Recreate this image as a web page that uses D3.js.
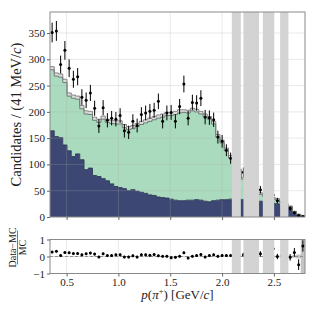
<!DOCTYPE html>
<html>
<head>
<meta charset="utf-8">
<script src="https://cdn.jsdelivr.net/npm/d3@7"></script>
<style>
  body { margin: 0; background: #fff; }
  text { font-family: "Liberation Serif", "DejaVu Serif", serif; fill: #222; }
</style>
</head>
<body>
<svg id="chart" width="317" height="317"></svg>
<script>
// binning: 60 bins of 41 MeV/c
const binLow = 0.34, binWidth = 0.041, nBins = 60;
const binEdges = d3.range(nBins + 1).map(i => binLow + i * binWidth);

// stacked MC components (per bin)
const navyComp = [164,153,151,137,126,115,120,109,90,93,79,77,73,69,63,58,56,54,50,52,
  49,47,45,42,41,38,37,36,34,32,31,31,32,32,33,32,30,29,31,32,
  33,33,34,34,34,33,32,31,31,30,29,28,26,25,22,20,19,9,4,2];
const greenComp = [116,115,115,119,104,111,104,97,106,102,105,103,113,111,115,119,121,116,116,116,
  123,129,134,140,144,150,153,157,159,163,167,168,166,170,167,164,161,157,146,120,
  108,93,78,66,54,39,31,24,17,13,10,8,8,7,6,4,1,1,0.5,0];
const otherComp = [6,6,6,6,6,6,6,6,6,6,6,6,6,6,6,6,6,6,6,6,
  6,6,6,6,6,6,6,6,6,6,6,5,5,5,5,5,5,5,5,5,
  5,5,5,3,3,3,3,3,3,3,3,3,3,3,3,3,1,1,1,1];

// data counts
const dataCounts = [351,354,290,317,283,262,267,228,222,236,207,173,208,184,188,186,193,164,161,182,
  174,195,198,201,203,220,182,198,199,182,210,253,188,218,217,226,190,189,185,152,
  144,127,112,100,90,85,70,62,55,52,46,44,42,31,28,22,16,8,3,1];

// (Data-MC)/MC
const ratioVals = [0.26,0.31,0.06,0.24,0.22,0.18,0.18,0.10,0.16,0.20,0.14,-0.03,0.16,0.06,0.06,0.10,0.10,-0.03,-0.03,0.04,
  -0.03,0.10,0.10,0.08,0.12,0.04,0.02,0.02,-0.08,-0.05,0.02,0.22,-0.09,0.02,0.06,0.12,-0.03,0.06,0.10,0.02,
  0.06,0.06,0.06,0.05,0.05,0.10,0.05,0.05,0.05,0.16,0.05,0.05,0.45,0.00,0.05,0.05,-0.05,0.24,-0.48,0.62];
// relative MC uncertainty (ratio panel band)
const mcRelUnc = [0.02,0.02,0.02,0.02,0.02,0.02,0.02,0.02,0.02,0.02,0.02,0.02,0.02,0.02,0.02,0.02,0.02,0.02,0.02,0.02,
  0.02,0.02,0.02,0.02,0.02,0.02,0.02,0.02,0.02,0.02,0.02,0.02,0.02,0.02,0.02,0.02,0.02,0.02,0.02,0.02,
  0.02,0.02,0.02,0.03,0.03,0.03,0.03,0.03,0.03,0.03,0.03,0.03,0.04,0.04,0.04,0.05,0.05,0.08,0.12,1.5];

// vetoed momentum regions
const vetoBands = [[2.094, 2.181], [2.206, 2.357], [2.393, 2.502], [2.560, 2.640]];

const yTicks = [0, 50, 100, 150, 200, 250, 300, 350];
const xTicks = [0.5, 1.0, 1.5, 2.0, 2.5];
const rTicks = [-1, 0, 1];

const main = { left: 50, right: 305, top: 12, bottom: 217 };
const sub = { top: 239.5, bottom: 273.5 };

const svg = d3.select("#chart");

const x = d3.scaleLinear().domain([binEdges[0], binEdges[nBins]]).range([main.left, main.right]);
const y = d3.scaleLinear().domain([0, 390]).range([main.bottom, main.top]);
const yr = d3.scaleLinear().domain([-1, 1]).range([sub.bottom, sub.top]);

const defs = svg.append("defs");
defs.append("clipPath").attr("id", "clipMain").append("rect")
  .attr("x", main.left).attr("y", main.top)
  .attr("width", main.right - main.left).attr("height", main.bottom - main.top);
defs.append("clipPath").attr("id", "clipSub").append("rect")
  .attr("x", main.left).attr("y", sub.top)
  .attr("width", main.right - main.left).attr("height", sub.bottom - sub.top);

// ---------- main panel ----------
const gMain = svg.append("g").attr("clip-path", "url(#clipMain)");

const rows = d3.range(nBins).map(i => ({ navy: navyComp[i], green: greenComp[i], other: otherComp[i] }));
const series = d3.stack().keys(["navy", "green", "other"])(rows);
const colors = { navy: "#3c4873", green: "#aadbbf", other: "#dedede" };
const edgeCol = { navy: "#2b3355", green: "#5f6f66", other: "#7a7a7a" };

const stepPts = s => s.map((d, i) => ({ x0: binEdges[i], lo: d[0], hi: d[1] }))
  .concat([{ x0: binEdges[nBins], lo: s[nBins - 1][0], hi: s[nBins - 1][1] }]);

const area = d3.area().curve(d3.curveStepAfter)
  .x(d => x(d.x0)).y0(d => y(d.lo)).y1(d => y(d.hi));
const topLine = d3.line().curve(d3.curveStepAfter)
  .x(d => x(d.x0)).y(d => y(d.hi));

gMain.selectAll("path.fill").data(series).join("path")
  .attr("class", "fill")
  .attr("d", s => area(stepPts(s)))
  .attr("fill", s => colors[s.key]);

gMain.selectAll("path.edge").data(series).join("path")
  .attr("class", "edge")
  .attr("d", s => topLine(stepPts(s)))
  .attr("fill", "none")
  .attr("stroke", s => edgeCol[s.key])
  .attr("stroke-width", 0.9);

// grid on top of the fills
const gridCol = "rgba(170,170,170,0.32)";
gMain.selectAll("line.gy").data(yTicks.slice(1)).join("line")
  .attr("x1", main.left).attr("x2", main.right)
  .attr("y1", d => y(d)).attr("y2", d => y(d))
  .attr("stroke", gridCol).attr("stroke-width", 0.8);
gMain.selectAll("line.gx").data(xTicks).join("line")
  .attr("y1", main.top).attr("y2", main.bottom)
  .attr("x1", d => x(d)).attr("x2", d => x(d))
  .attr("stroke", gridCol).attr("stroke-width", 0.8);

// data points
const centers = d3.range(nBins).map(i => binEdges[i] + binWidth / 2);
const pts = dataCounts.map((v, i) => ({ c: centers[i], v, e: Math.sqrt(v) }));
gMain.selectAll("line.err").data(pts).join("line")
  .attr("x1", d => x(d.c)).attr("x2", d => x(d.c))
  .attr("y1", d => y(d.v - d.e)).attr("y2", d => y(d.v + d.e))
  .attr("stroke", "#000").attr("stroke-width", 1);
gMain.selectAll("circle").data(pts).join("circle")
  .attr("cx", d => x(d.c)).attr("cy", d => y(d.v)).attr("r", 1.5)
  .attr("fill", "#000");

// veto bands
gMain.selectAll("rect.veto").data(vetoBands).join("rect")
  .attr("x", d => x(d[0])).attr("width", d => x(d[1]) - x(d[0]))
  .attr("y", main.top).attr("height", main.bottom - main.top)
  .attr("fill", "#d3d3d3");

svg.append("rect")
  .attr("x", main.left).attr("y", main.top)
  .attr("width", main.right - main.left).attr("height", main.bottom - main.top)
  .attr("fill", "none").attr("stroke", "#8a8a8a").attr("stroke-width", 1);

const axMainY = svg.append("g").attr("transform", `translate(${main.left},0)`)
  .call(d3.axisLeft(y).tickValues(yTicks).tickSize(3).tickPadding(2));
const axMainX = svg.append("g").attr("transform", `translate(0,${main.bottom})`)
  .call(d3.axisBottom(x).tickValues(xTicks).tickSize(3).tickFormat(""));

// ---------- ratio panel ----------
const gSub = svg.append("g").attr("clip-path", "url(#clipSub)");

gSub.selectAll("line.gy").data(rTicks).join("line")
  .attr("x1", main.left).attr("x2", main.right)
  .attr("y1", d => yr(d)).attr("y2", d => yr(d))
  .attr("stroke", gridCol).attr("stroke-width", 0.8);
gSub.selectAll("line.gx").data(xTicks).join("line")
  .attr("y1", sub.top).attr("y2", sub.bottom)
  .attr("x1", d => x(d)).attr("x2", d => x(d))
  .attr("stroke", gridCol).attr("stroke-width", 0.8);

const uncPts = mcRelUnc.map((u, i) => ({ x0: binEdges[i], u }))
  .concat([{ x0: binEdges[nBins], u: mcRelUnc[nBins - 1] }]);
gSub.append("path")
  .attr("d", d3.area().curve(d3.curveStepAfter)
    .x(d => x(d.x0)).y0(d => yr(-d.u)).y1(d => yr(d.u))(uncPts))
  .attr("fill", "#c4c4c4");

gSub.append("line")
  .attr("x1", main.left).attr("x2", main.right)
  .attr("y1", yr(0)).attr("y2", yr(0))
  .attr("stroke", "#888").attr("stroke-width", 0.9)
  .attr("stroke-dasharray", "3,2");

const mcTot = rows.map(r => r.navy + r.green + r.other);
const rpts = ratioVals.map((r, i) => ({ c: centers[i], r, e: Math.sqrt(dataCounts[i]) / mcTot[i] }));
gSub.selectAll("line.err").data(rpts).join("line")
  .attr("x1", d => x(d.c)).attr("x2", d => x(d.c))
  .attr("y1", d => yr(d.r - d.e)).attr("y2", d => yr(d.r + d.e))
  .attr("stroke", "#000").attr("stroke-width", 1);
gSub.selectAll("circle").data(rpts).join("circle")
  .attr("cx", d => x(d.c)).attr("cy", d => yr(d.r)).attr("r", 1.5)
  .attr("fill", "#000");

gSub.selectAll("rect.veto").data(vetoBands).join("rect")
  .attr("x", d => x(d[0])).attr("width", d => x(d[1]) - x(d[0]))
  .attr("y", sub.top).attr("height", sub.bottom - sub.top)
  .attr("fill", "#d3d3d3");

svg.append("rect")
  .attr("x", main.left).attr("y", sub.top)
  .attr("width", main.right - main.left).attr("height", sub.bottom - sub.top)
  .attr("fill", "none").attr("stroke", "#8a8a8a").attr("stroke-width", 1);

const axSubY = svg.append("g").attr("transform", `translate(${main.left},0)`)
  .call(d3.axisLeft(yr).tickValues(rTicks).tickSize(3).tickPadding(2).tickFormat(d3.format("d")));
const axSubX = svg.append("g").attr("transform", `translate(0,${sub.bottom})`)
  .call(d3.axisBottom(x).tickValues(xTicks).tickSize(3).tickPadding(2).tickFormat(d3.format(".1f")));

[axMainY, axMainX, axSubY, axSubX].forEach(ax => {
  ax.select(".domain").remove();
  ax.selectAll(".tick line").attr("stroke", "#666");
  ax.selectAll(".tick text").attr("font-size", 11)
    .attr("font-family", "Liberation Serif, serif").attr("fill", "#333");
});

// axis titles
const yTitle = svg.append("text")
  .attr("transform", `translate(21,${(main.top + main.bottom) / 2}) rotate(-90)`)
  .attr("text-anchor", "middle").attr("font-size", 14.5);
yTitle.append("tspan").text("Candidates / (41 MeV/");
yTitle.append("tspan").attr("font-style", "italic").text("c");
yTitle.append("tspan").text(")");

const xTitle = svg.append("text")
  .attr("x", (main.left + main.right) / 2).attr("y", 299)
  .attr("text-anchor", "middle").attr("font-size", 13);
xTitle.append("tspan").attr("font-style", "italic").text("p");
xTitle.append("tspan").text("(");
xTitle.append("tspan").attr("font-style", "italic").text("π");
xTitle.append("tspan").attr("font-size", 8.5).attr("dy", -5).text("+");
xTitle.append("tspan").attr("dy", 5).text(") [GeV/");
xTitle.append("tspan").attr("font-style", "italic").text("c");
xTitle.append("tspan").text("]");

const frac = svg.append("g").attr("transform", `translate(17.5,${(sub.top + sub.bottom) / 2 - 9}) rotate(-90)`);
frac.append("text").attr("text-anchor", "middle").attr("y", -2).attr("font-size", 10).text("Data−MC");
frac.append("line").attr("x1", -17).attr("x2", 17).attr("stroke", "#222").attr("stroke-width", 0.6);
frac.append("text").attr("text-anchor", "middle").attr("y", 8).attr("font-size", 10).text("MC");
</script>
</body>
</html>
